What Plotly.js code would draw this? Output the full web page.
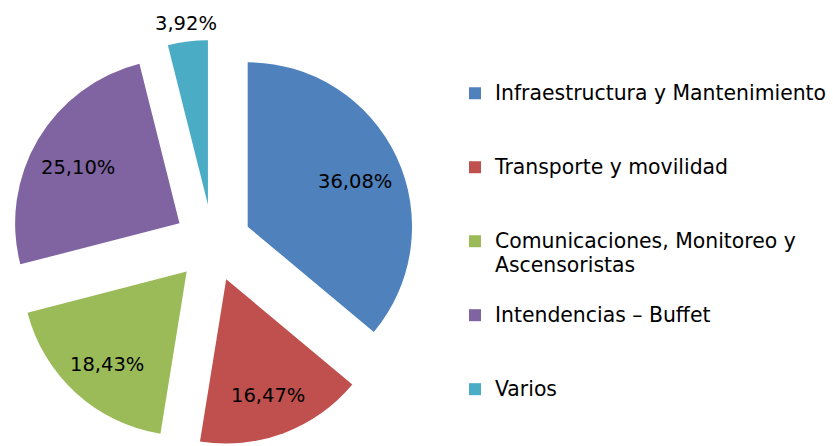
<!DOCTYPE html>
<html>
<head>
<meta charset="utf-8">
<script src="https://cdn.plot.ly/plotly-3.0.1.min.js"></script>
<style>
  html, body { margin: 0; padding: 0; overflow: hidden; background: #fff; }
  #chart { width: 833px; height: 446px; }
</style>
</head>
<body>
<div id="chart"></div>
<script>
// Data
const categories = [
  "Infraestructura y Mantenimiento",
  "Transporte y movilidad",
  "Comunicaciones, Monitoreo y Ascensoristas",
  "Intendencias \u2013 Buffet",
  "Varios"
];
const values = [36.08, 16.47, 18.43, 25.10, 3.92];
const colors = ["#4F81BD", "#C0504D", "#9BBB59", "#8064A2", "#4BACC6"];

const W = 833, H = 446;
const PULL = 0.235;
const FONT = "DejaVu Sans";
const LEG_BASE = 18.2;   // drives legend line spacing
const LEG_SIZE = 20.4;   // visible legend text size

// Legend display labels: wrap long one, pad to 3 lines for spacing (not the last)
function legendLabel(name, idx) {
  let lines = [name];
  if (name.length > 35) {
    const cut = name.lastIndexOf(" ", 28);
    lines = [name.slice(0, cut), name.slice(cut + 1)];
  }
  lines = lines.map(l => '<span style="font-size:' + LEG_SIZE + 'px">' + l + '</span>');
  if (idx < categories.length - 1) {
    while (lines.length < 3) lines.push("\u00a0");
  }
  return lines.join("<br>");
}
const legendLabels = categories.map(legendLabel);

function fmt(v) { return v.toFixed(2).replace(".", ",") + "%"; }

const trace = {
  type: "pie",
  labels: legendLabels,
  values: values,
  sort: false,
  direction: "clockwise",
  rotation: 0,
  pull: values.map(() => PULL),
  marker: { colors: colors, line: { width: 0 } },
  textinfo: "none",
  domain: { x: [0.01164, 0.49904], y: [0.0, 0.9103] },
  hoverinfo: "label+percent",
  showlegend: true
};

const layout = {
  width: W,
  height: H,
  margin: { l: 0, r: 0, t: 0, b: 0 },
  paper_bgcolor: "#fff",
  showlegend: true,
  legend: {
    x: 0.5462, y: 0.832, xanchor: "left", yanchor: "top",
    valign: "top",
    font: { family: FONT, size: LEG_BASE, color: "#000" },
    bgcolor: "rgba(0,0,0,0)",
    borderwidth: 0
  },
  font: { family: FONT }
};

Plotly.newPlot("chart", [trace], layout, { displayModeBar: false, staticPlot: true }).then(gd => {
  // place percentage labels from the library's own pie geometry
  const cd0 = gd.calcdata[0][0];
  const fl = gd._fullLayout;
  const r = cd0.r, cx = cd0.cx, cy = cd0.cy;
  const total = values.reduce((a, b) => a + b, 0);
  let cum = 0;
  const anns = values.map((v, i) => {
    const mid = (cum + v / 2) / total * 2 * Math.PI;
    cum += v;
    const outside = v / total < 0.05;
    const k = PULL + (outside ? 1.11 : 0.72);
    const px = cx + k * r * Math.sin(mid);
    const py = cy - k * r * Math.cos(mid);
    return {
      xref: "paper", yref: "paper",
      x: px / fl.width, y: 1 - py / fl.height,
      xanchor: "center", yanchor: "middle",
      yshift: outside ? 0 : -5,
      showarrow: false,
      text: fmt(v),
      font: { family: FONT, size: 19.5, color: "#000" }
    };
  });
  return Plotly.relayout(gd, { annotations: anns });
});
</script>
</body>
</html>
